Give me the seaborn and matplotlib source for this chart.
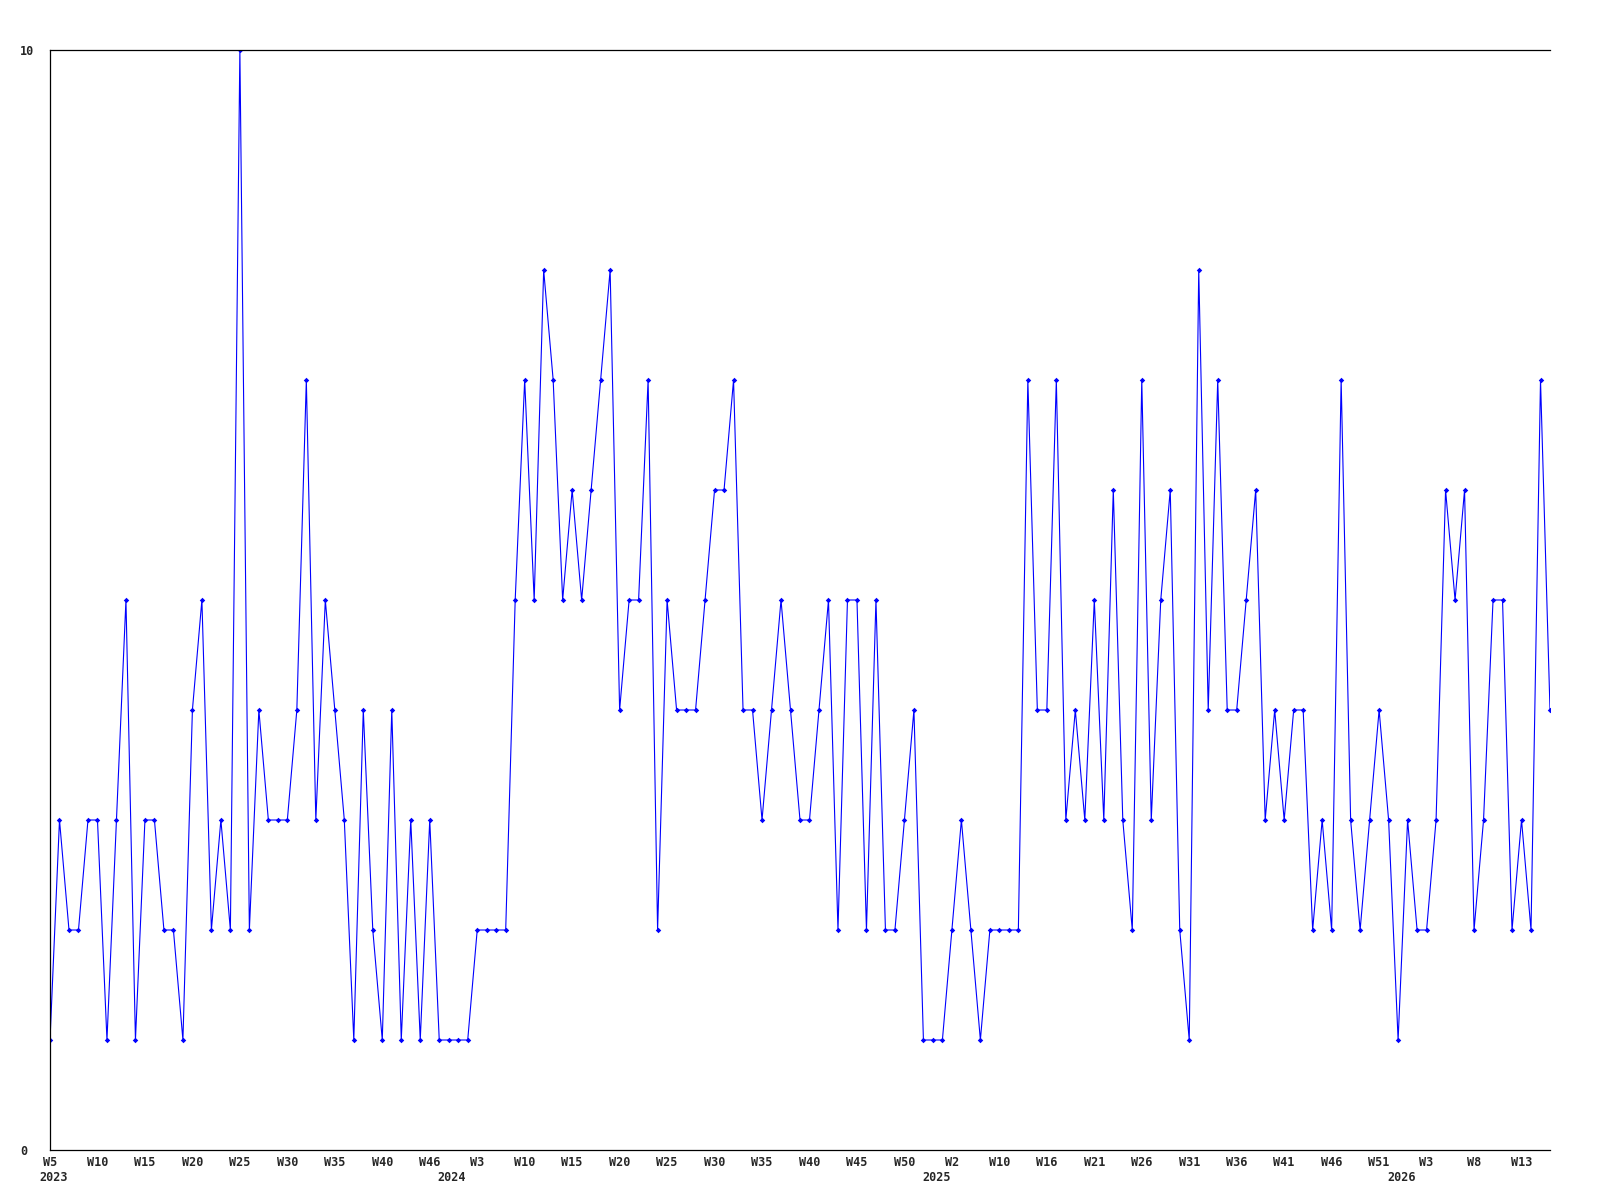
import matplotlib
matplotlib.use("Agg")
import matplotlib.pyplot as plt
import seaborn as sns
import numpy as np
import pandas as pd

values = [1, 3, 2, 2, 3, 3, 1, 3, 5, 1,
          3, 3, 2, 2, 1, 4, 5, 2, 3, 2,
          10, 2, 4, 3, 3, 3, 4, 7, 3, 5,
          4, 3, 1, 4, 2, 1, 4, 1, 3, 1,
          3, 1, 1, 1, 1, 2, 2, 2, 2, 5,
          7, 5, 8, 7, 5, 6, 5, 6, 7, 8,
          4, 5, 5, 7, 2, 5, 4, 4, 4, 5,
          6, 6, 7, 4, 4, 3, 4, 5, 4, 3,
          3, 4, 5, 2, 5, 5, 2, 5, 2, 2,
          3, 4, 1, 1, 1, 2, 3, 2, 1, 2,
          2, 2, 2, 7, 4, 4, 7, 3, 4, 3,
          5, 3, 6, 3, 2, 7, 3, 5, 6, 2,
          1, 8, 4, 7, 4, 4, 5, 6, 3, 4,
          3, 4, 4, 2, 3, 2, 7, 3, 2, 3,
          4, 3, 1, 3, 2, 2, 3, 6, 5, 6,
          2, 3, 5, 5, 2, 3, 2, 7, 4]

week_labels = ["W5", "W10", "W15", "W20", "W25", "W30", "W35", "W40", "W46",
               "W3", "W10", "W15", "W20", "W25", "W30", "W35", "W40", "W45", "W50",
               "W2", "W10", "W16", "W21", "W26", "W31", "W36", "W41", "W46", "W51",
               "W3", "W8", "W13"]
year_labels = ["2023", "2024", "2025", "2026"]
year_start_index = [0, 42, 93, 142]

df = pd.DataFrame({"idx": np.arange(len(values)), "value": values})

sns.set_style("white")
plt.rcParams['font.family'] = ['DejaVu Sans Mono', 'DejaVu Sans']

fig = plt.figure(figsize=(16, 12), dpi=100)
ax = fig.add_axes([50 / 1600, 1 - 1150 / 1200, 1500 / 1600, 1100 / 1200])

sns.lineplot(data=df, x="idx", y="value", ax=ax, color="#0000ff", linewidth=0.8,
             marker="D", markersize=2.8, markeredgewidth=0, markerfacecolor="#0000ff")

ax.set_xlim(0, len(values) - 1)
ax.set_ylim(0, 10)
ax.set_xlabel("")
ax.set_ylabel("")

for s in ["left", "bottom", "top"]:
    ax.spines[s].set_visible(True)
    ax.spines[s].set_color("black")
    ax.spines[s].set_linewidth(0.9)
ax.spines["right"].set_visible(False)

ax.set_yticks([0, 10])
ax.set_yticklabels(["0", "10"], fontsize=8.5, fontweight="bold")
ax.tick_params(axis="y", length=0, pad=21.6)
for t in ax.get_yticklabels():
    t.set_horizontalalignment("left")

ax.set_xticks(np.arange(0, 5 * len(week_labels), 5))
ax.set_xticklabels(week_labels, fontsize=8.5, fontweight="bold")
ax.set_xticks([i + 0.35 for i in year_start_index], minor=True)
ax.set_xticklabels(year_labels, minor=True, fontsize=8.5, fontweight="bold")
ax.tick_params(axis="x", which="major", length=0, pad=4.5)
ax.tick_params(axis="x", which="minor", length=0, pad=15.0)
ax.grid(False)

fig.savefig("out.png", dpi=100)
